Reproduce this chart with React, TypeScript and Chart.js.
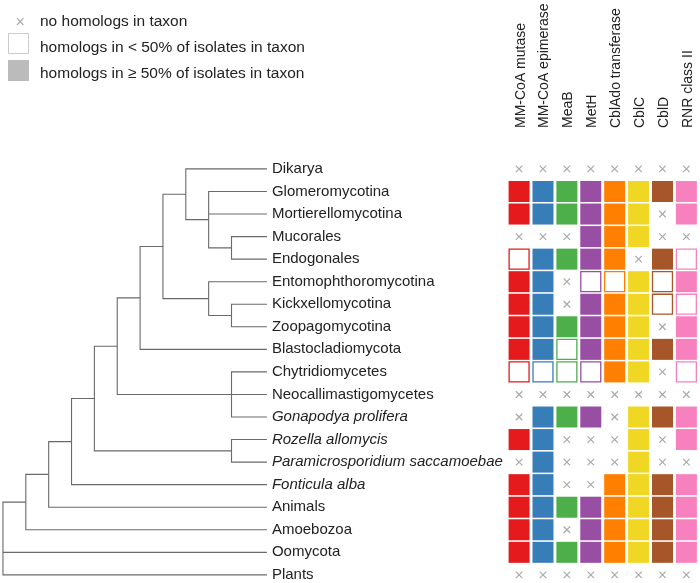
import React, { useEffect, useRef } from 'react';
import { Chart, registerables } from 'chart.js';

Chart.register(...registerables);

// ---------- data ----------
const taxa = [
  'Dikarya',
  'Glomeromycotina',
  'Mortierellomycotina',
  'Mucorales',
  'Endogonales',
  'Entomophthoromycotina',
  'Kickxellomycotina',
  'Zoopagomycotina',
  'Blastocladiomycota',
  'Chytridiomycetes',
  'Neocallimastigomycetes',
  'Gonapodya prolifera',
  'Rozella allomycis',
  'Paramicrosporidium saccamoebae',
  'Fonticula alba',
  'Animals',
  'Amoebozoa',
  'Oomycota',
  'Plants',
];
const italicTaxa = ['Gonapodya prolifera', 'Rozella allomycis', 'Paramicrosporidium saccamoebae', 'Fonticula alba'];

const genes = ['MM-CoA mutase', 'MM-CoA epimerase', 'MeaB', 'MetH', 'CblAdo transferase', 'CblC', 'CblD', 'RNR class II'];
const geneColors = ['#e41a1c', '#377eb8', '#4daf4a', '#984ea3', '#ff7f00', '#f0d723', '#a65628', '#f781bf'];

// 0 = no homologs, 1 = homologs in < 50% of isolates, 2 = homologs in >= 50% of isolates (rows follow `taxa`)
const mmcoaMutase = [0, 2, 2, 0, 1, 2, 2, 2, 2, 1, 0, 0, 2, 0, 2, 2, 2, 2, 0];
const mmcoaEpimerase = [0, 2, 2, 0, 2, 2, 2, 2, 2, 1, 0, 2, 2, 2, 2, 2, 2, 2, 0];
const meaB = [0, 2, 2, 0, 2, 0, 0, 2, 1, 1, 0, 2, 0, 0, 0, 2, 0, 2, 0];
const metH = [0, 2, 2, 2, 2, 1, 2, 2, 2, 1, 0, 2, 0, 0, 0, 2, 2, 2, 0];
const cblAdo = [0, 2, 2, 2, 2, 1, 2, 2, 2, 2, 0, 0, 0, 0, 2, 2, 2, 2, 0];
const cblC = [0, 2, 2, 2, 0, 2, 2, 2, 2, 2, 0, 2, 2, 2, 2, 2, 2, 2, 0];
const cblD = [0, 2, 0, 0, 2, 1, 1, 0, 2, 0, 0, 2, 0, 0, 2, 2, 2, 2, 0];
const rnrII = [0, 2, 2, 0, 1, 2, 1, 2, 2, 1, 0, 2, 2, 0, 2, 2, 2, 2, 0];
const geneValues = [mmcoaMutase, mmcoaEpimerase, meaB, metH, cblAdo, cblC, cblD, rnrII];

const legendLabels = ['no homologs in taxon', 'homologs in < 50% of isolates in taxon', 'homologs in \u2265 50% of isolates in taxon'];

// cladogram topology (nested lists of leaf names)
type TreeNode = string | TreeNode[];
const tree: TreeNode = [
  [
    [
      [
        [
          [
            [
              [
                ['Dikarya', ['Glomeromycotina', 'Mortierellomycotina', ['Mucorales', 'Endogonales']]],
                ['Entomophthoromycotina', ['Kickxellomycotina', 'Zoopagomycotina']],
              ],
              'Blastocladiomycota',
            ],
            ['Chytridiomycetes', 'Neocallimastigomycetes', 'Gonapodya prolifera'],
          ],
          ['Rozella allomycis', 'Paramicrosporidium saccamoebae'],
        ],
        'Fonticula alba',
      ],
      'Animals',
    ],
    'Amoebozoa',
  ],
  'Oomycota',
  'Plants',
];

// ---------- layout constants ----------
const LEAF_TIP = 11.55;
const TREE_MIN = -0.13;
const TREE_MAX = 30.5;
const MAT_MIN = -21.72;
const MAT_MAX = 7.57;
const ROW_MIN = -7.49;
const ROW_MAX = 18.36;
const HEADER_BASE = 128;
const FONT = '"Liberation Sans", Arial, Helvetica, sans-serif';
const TEXT_COLOR = '#222';
const ABSENT_COLOR = '#aaaaaa';
const TREE_COLOR = '#6a6a6a';

function heightOf(n: TreeNode): number {
  if (typeof n === 'string') return 0;
  return 1 + Math.max(...n.map(heightOf));
}
const ROOT_H = heightOf(tree);

type Pt = { x: number; y: number };
function buildTreePaths(): Pt[][] {
  const paths: Pt[][] = [];
  const walk = (n: TreeNode): Pt => {
    if (typeof n === 'string') return { x: LEAF_TIP, y: taxa.indexOf(n) };
    const kids = n.map(walk);
    const d = ROOT_H - heightOf(n);
    const first = kids[0];
    const last = kids[kids.length - 1];
    paths.push([
      { x: first.x, y: first.y },
      { x: d, y: first.y },
      { x: d, y: last.y },
      { x: last.x, y: last.y },
    ]);
    for (let k = 1; k < kids.length - 1; k++) {
      paths.push([
        { x: d, y: kids[k].y },
        { x: kids[k].x, y: kids[k].y },
      ]);
    }
    return { x: d, y: (first.y + last.y) / 2 };
  };
  walk(tree);
  return paths;
}

const labelPlugin = {
  id: 'textLabels',
  afterDatasetsDraw(chart: any) {
    const ctx: CanvasRenderingContext2D = chart.ctx;
    const xt = chart.scales.xt;
    const xm = chart.scales.xm;
    const ys = chart.scales.y;
    ctx.save();
    ctx.fillStyle = TEXT_COLOR;
    ctx.textAlign = 'left';
    ctx.textBaseline = 'middle';
    // taxon labels
    taxa.forEach((t, i) => {
      ctx.font = `${italicTaxa.includes(t) ? 'italic ' : ''}15px ${FONT}`;
      ctx.fillText(t, xt.getPixelForValue(LEAF_TIP) + 5, ys.getPixelForValue(i));
    });
    // gene headers
    ctx.font = `14px ${FONT}`;
    genes.forEach((g, j) => {
      ctx.save();
      ctx.translate(xm.getPixelForValue(j) + 5.5, HEADER_BASE);
      ctx.rotate(-Math.PI / 2);
      ctx.textBaseline = 'alphabetic';
      ctx.fillText(g, 0, 0);
      ctx.restore();
    });
    // legend
    ctx.strokeStyle = ABSENT_COLOR;
    ctx.lineWidth = 1.2;
    ctx.beginPath();
    ctx.moveTo(17.0, 18.2);
    ctx.lineTo(23.4, 25.0);
    ctx.moveTo(23.4, 18.2);
    ctx.lineTo(17.0, 25.0);
    ctx.stroke();
    ctx.fillStyle = '#ffffff';
    ctx.strokeStyle = '#cccccc';
    ctx.lineWidth = 1;
    ctx.fillRect(8.5, 33.5, 20, 20);
    ctx.strokeRect(8.5, 33.5, 20, 20);
    ctx.fillStyle = '#bbbbbb';
    ctx.fillRect(8, 60, 21, 21);
    ctx.fillStyle = TEXT_COLOR;
    ctx.font = `15.5px ${FONT}`;
    ctx.textBaseline = 'alphabetic';
    const baselines = [26, 51.5, 78];
    legendLabels.forEach((l, k) => ctx.fillText(l, 40, baselines[k]));
    ctx.restore();
  },
};

export default function App() {
  const canvasRef = useRef<HTMLCanvasElement | null>(null);

  useEffect(() => {
    document.body.style.margin = '0';
    const canvas = canvasRef.current;
    if (!canvas) return;

    const datasets: any[] = [];
    buildTreePaths().forEach((p) => {
      datasets.push({
        data: p,
        xAxisID: 'xt',
        yAxisID: 'y',
        showLine: true,
        borderColor: TREE_COLOR,
        borderWidth: 1.1,
        pointRadius: 0,
        fill: false,
        tension: 0,
      });
    });
    geneValues.forEach((vals, j) => {
      const full: Pt[] = [];
      const part: Pt[] = [];
      const none: Pt[] = [];
      vals.forEach((v, i) => {
        const pt = { x: j, y: i };
        if (v === 2) full.push(pt);
        else if (v === 1) part.push(pt);
        else none.push(pt);
      });
      datasets.push({
        data: full,
        xAxisID: 'xm',
        yAxisID: 'y',
        pointStyle: 'rect',
        pointRadius: 14.85,
        backgroundColor: geneColors[j],
        borderWidth: 0,
      });
      datasets.push({
        data: part,
        xAxisID: 'xm',
        yAxisID: 'y',
        pointStyle: 'rect',
        pointRadius: 14.1,
        backgroundColor: '#ffffff',
        borderColor: geneColors[j],
        borderWidth: 1.3,
      });
      datasets.push({
        data: none,
        xAxisID: 'xm',
        yAxisID: 'y',
        pointStyle: 'crossRot',
        pointRadius: 4.6,
        borderColor: ABSENT_COLOR,
        borderWidth: 1.2,
      });
    });

    const chart = new Chart(canvas, {
      type: 'scatter',
      data: { datasets },
      options: {
        responsive: false,
        maintainAspectRatio: false,
        animation: false,
        events: [],
        layout: { padding: 0, autoPadding: false },
        plugins: { legend: { display: false }, tooltip: { enabled: false } },
        scales: {
          xt: { type: 'linear', position: 'bottom', min: TREE_MIN, max: TREE_MAX, bounds: 'data', display: false },
          xm: { type: 'linear', position: 'bottom', min: MAT_MIN, max: MAT_MAX, bounds: 'data', display: false },
          y: { type: 'linear', position: 'left', min: ROW_MIN, max: ROW_MAX, reverse: true, bounds: 'data', display: false },
        },
      } as any,
      plugins: [labelPlugin],
    });
    return () => chart.destroy();
  }, []);

  return (
    <div style={{ width: 700, height: 583, background: '#ffffff' }}>
      <canvas ref={canvasRef} width={700} height={583} style={{ display: 'block' }} />
    </div>
  );
}
